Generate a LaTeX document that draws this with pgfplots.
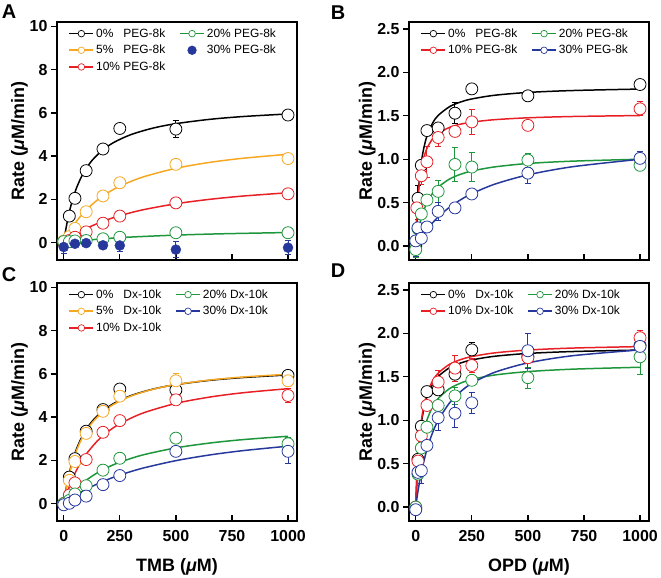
\documentclass[border=0pt]{standalone}
\usepackage{pgfplots}
\pgfplotsset{compat=1.18}
\usepackage{fontspec}
\setmainfont{Liberation Sans}
\definecolor{cOrange}{RGB}{247,168,35}
\definecolor{cRed}{RGB}{232,32,38}
\definecolor{cGreen}{RGB}{30,150,60}
\definecolor{cBlue}{RGB}{38,56,155}
\pgfplotsset{
  panel/.style={
    scale only axis, width=240bp, height=238bp, anchor=south west,
    xmin=-30, xmax=1040,
    axis line style={line width=1.6pt},
    tick pos=left,
    xtick align=inside, ytick align=outside,
    major tick length=6bp,
    every tick/.style={black, line width=1.3pt},
    xtick={0,250,500,750,1000},
    ticklabel style={font=\fontsize{16}{16}\selectfont\bfseries},
    xticklabel style={yshift=-6bp},
    /pgf/number format/assume math mode=true,
    /pgf/number format/1000 sep={},
    label style={font=\fontsize{18}{18}\selectfont\bfseries},
    xlabel style={yshift=-10bp},
    ylabel shift=-5bp,
    ylabel={Rate ({\itshape μ}M/min)},
    legend style={draw=none, fill=none, at={(0.035,0.99)}, anchor=north west,
      font=\fontsize{12}{12}\selectfont, row sep=2.5bp,
      /tikz/every even column/.append style={column sep=12bp}},
    legend columns=2,
    legend cell align=left,
    legend image code/.code={\draw[mark repeat=2,mark phase=2,##1,line width=1.6pt] plot coordinates {(0bp,0bp) (12bp,0bp) (24bp,0bp)};},
    legend image post style={mark=*, mark size=3.3bp, mark options={solid, fill=white, line width=0.7pt}},
  },
  curve/.style={smooth, line width=1.5pt, no markers},
  ebar/.style={only marks, mark=none, forget plot,
    error bars/y dir=both, error bars/y explicit, error bars/error bar style={line width=1pt},
    error bars/error mark options={rotate=90, line width=1pt, mark size=3bp}},
  mk/.style={only marks, mark=*, mark size=6bp, forget plot, mark options={fill=white, line width=0.8pt}},
}
\begin{document}
\begin{tikzpicture}
\path[use as bounding box] (0,0) rectangle (661bp,578bp);
\node[font=\fontsize{20}{20}\selectfont\bfseries] at (9bp,566bp) {A};
\node[font=\fontsize{20}{20}\selectfont\bfseries] at (338bp,565bp) {B};
\node[font=\fontsize{20}{20}\selectfont\bfseries] at (9bp,303bp) {C};
\node[font=\fontsize{20}{20}\selectfont\bfseries] at (338bp,307bp) {D};

% ---------------- Panel A ----------------
\begin{axis}[panel, at={(57bp,318bp)}, ymin=-0.8, ymax=10.2, ytick={0,2,...,10}, xticklabels={}]
\addplot[ebar, black] table[y error=e] {
x y e
500 5.25 0.38
};
\addplot[ebar, cBlue] table[y error=e] {
x y e
0 -0.20 0.30
250 -0.13 0.30
500 -0.32 0.38
1000 -0.23 0.32
};
\addplot[mk, black] table {
x y
0 0
25 1.23
50 2.05
100 3.33
175 4.33
250 5.28
500 5.25
1000 5.90
};
\addplot[mk, cOrange] table {
x y
0 0.08
25 0.28
50 0.66
100 1.43
175 2.16
250 2.77
500 3.62
1000 3.89
};
\addplot[mk, cRed] table {
x y
0 0.03
25 0.10
50 0.25
100 0.50
175 0.90
250 1.23
500 1.84
1000 2.26
};
\addplot[mk, cGreen] table {
x y
0 0.05
25 0.05
50 0.08
100 0.10
175 0.18
250 0.25
500 0.46
1000 0.46
};
\addplot[curve, black] coordinates {(0,0) (5,0.345) (10,0.655) (20,1.189) (30,1.634) (45,2.176) (60,2.609) (80,3.067) (100,3.429) (130,3.847) (175,4.295) (225,4.643) (300,4.997) (400,5.301) (500,5.501) (650,5.700) (800,5.831) (1000,5.950)};
\addlegendentry{0\%\hphantom{0} PEG-8k}
\addplot[curve, cGreen] coordinates {(0,0) (50,0.0625) (100,0.115) (200,0.198) (300,0.261) (500,0.350) (700,0.410) (1000,0.470)};
\addlegendentry{20\% PEG-8k}
\addplot[curve, cOrange] coordinates {(0,0) (10,0.207) (25,0.488) (50,0.890) (75,1.227) (100,1.514) (150,1.974) (200,2.328) (250,2.609) (350,3.026) (500,3.438) (650,3.710) (800,3.903) (1000,4.088)};
\addlegendentry{5\%\hphantom{0} PEG-8k}
\addplot[only marks, cBlue, mark=*, mark size=5bp, legend image post style={mark=*, mark size=3.8bp, draw=none, mark options={fill=cBlue, draw=cBlue}}] table {
x y
0 -0.20
50 -0.05
100 -0.02
175 -0.12
250 -0.13
500 -0.32
1000 -0.23
};
\addlegendentry{30\% PEG-8k}
\addplot[curve, cRed] coordinates {(0,0) (25,0.192) (50,0.362) (100,0.651) (150,0.886) (200,1.082) (250,1.248) (350,1.513) (500,1.799) (650,2.003) (800,2.156) (1000,2.308)};
\addlegendentry{10\% PEG-8k}
\end{axis}

% ---------------- Panel B ----------------
\begin{axis}[panel, at={(409bp,318bp)}, ymin=-0.16, ymax=2.58, ytick={0,0.5,...,2.5},
  yticklabel style={/pgf/number format/.cd, fixed, fixed zerofill, precision=1}, xticklabels={}]
\addplot[ebar, black] table[y error=e] {
x y e
10 0.55 0.15
175 1.53 0.12
};
\addplot[ebar, cRed] table[y error=e] {
x y e
25 0.81 0.10
50 0.97 0.18
100 1.25 0.10
250 1.43 0.14
1000 1.58 0.08
};
\addplot[ebar, cGreen] table[y error=e] {
x y e
0 -0.04 0.09
100 0.63 0.13
175 0.94 0.20
250 0.91 0.17
500 0.99 0.08
};
\addplot[ebar, cBlue] table[y error=e] {
x y e
0 0.06 0.18
10 0.21 0.10
100 0.40 0.10
500 0.84 0.12
1000 1.01 0.08
};
\addplot[mk, black] table {
x y
0 0.00
10 0.55
25 0.93
50 1.33
100 1.36
175 1.53
250 1.81
500 1.73
1000 1.86
};
\addplot[mk, cRed] table {
x y
5 0.44
25 0.81
50 0.97
100 1.25
175 1.32
250 1.43
500 1.39
1000 1.58
};
\addplot[mk, cGreen] table {
x y
0 -0.04
10 0.20
25 0.37
50 0.53
100 0.63
175 0.94
250 0.91
500 0.99
1000 0.93
};
\addplot[mk, cBlue] table {
x y
0 0.06
10 0.21
25 0.09
50 0.22
100 0.40
175 0.44
250 0.60
500 0.84
1000 1.01
};
\addplot[curve, black] coordinates {(0,0) (2,0.148) (5,0.330) (10,0.561) (15,0.730) (25,0.964) (35,1.116) (50,1.267) (75,1.416) (100,1.504) (150,1.604) (200,1.659) (250,1.694) (350,1.736) (500,1.769) (700,1.791) (1000,1.808)};
\addlegendentry{0\%\hphantom{0} PEG-8k}
\addplot[curve, cGreen] coordinates {(0,0) (5,0.087) (10,0.161) (25,0.328) (50,0.500) (75,0.607) (100,0.679) (150,0.771) (200,0.827) (250,0.864) (350,0.911) (500,0.951) (700,0.978) (1000,1.000)};
\addlegendentry{20\% PEG-8k}
\addplot[curve, cRed] coordinates {(0,0) (2,0.153) (5,0.333) (10,0.546) (15,0.695) (25,0.890) (35,1.010) (50,1.125) (75,1.234) (100,1.297) (150,1.366) (200,1.404) (250,1.427) (350,1.455) (500,1.477) (700,1.492) (1000,1.503)};
\addlegendentry{10\% PEG-8k}
\addplot[curve, cBlue] coordinates {(0,0) (10,0.044) (25,0.105) (50,0.194) (100,0.336) (150,0.446) (200,0.533) (250,0.603) (350,0.711) (500,0.820) (700,0.914) (1000,1.000)};
\addlegendentry{30\% PEG-8k}
\end{axis}

% ---------------- Panel C ----------------
\begin{axis}[panel, at={(57bp,57bp)}, ymin=-0.8, ymax=10.2, ytick={0,2,...,10},
  xlabel={TMB ({\itshape μ}M)}]
\addplot[ebar, black] table[y error=e] {
x y e
500 5.25 0.32
};
\addplot[ebar, cOrange] table[y error=e] {
x y e
500 5.68 0.35
};
\addplot[ebar, cRed] table[y error=e] {
x y e
1000 5.00 0.32
};
\addplot[ebar, cGreen] table[y error=e] {
x y e
1000 2.77 0.30
};
\addplot[ebar, cBlue] table[y error=e] {
x y e
1000 2.42 0.55
};
\addplot[mk, black] table {
x y
0 0
25 1.23
50 2.08
100 3.35
175 4.35
250 5.30
500 5.25
1000 5.93
};
\addplot[mk, cOrange] table {
x y
0 0
25 1.08
50 1.95
100 3.25
175 4.27
250 4.97
500 5.68
1000 5.68
};
\addplot[mk, cRed] table {
x y
0 0
25 0.40
50 0.96
100 2.04
175 3.30
250 3.84
500 4.80
1000 5.00
};
\addplot[mk, cGreen] table {
x y
0 0
25 0.15
50 0.45
100 0.83
175 1.55
250 2.10
500 3.03
1000 2.77
};
\addplot[mk, cBlue] table {
x y
0 -0.05
25 0.02
50 0.17
100 0.35
175 0.88
250 1.30
500 2.42
1000 2.42
};
\addplot[curve, black] coordinates {(0,0) (5,0.345) (10,0.655) (20,1.189) (30,1.634) (45,2.176) (60,2.609) (80,3.067) (100,3.429) (130,3.847) (175,4.295) (225,4.643) (300,4.997) (400,5.301) (500,5.501) (650,5.700) (800,5.831) (1000,5.950)};
\addlegendentry{0\%\hphantom{0} Dx-10k}
\addplot[curve, cGreen] coordinates {(0,0) (25,0.341) (50,0.627) (100,1.082) (150,1.428) (200,1.698) (250,1.916) (350,2.246) (500,2.579) (650,2.802) (800,2.962) (1000,3.117)};
\addlegendentry{20\% Dx-10k}
\addplot[curve, cOrange] coordinates {(0,0) (5,0.328) (10,0.624) (20,1.139) (30,1.572) (45,2.105) (60,2.535) (80,2.994) (100,3.359) (130,3.784) (175,4.245) (225,4.605) (300,4.975) (400,5.293) (500,5.504) (650,5.715) (800,5.855) (1000,5.982)};
\addlegendentry{5\%\hphantom{0} Dx-10k}
\addplot[curve, cBlue] coordinates {(0,0) (25,0.188) (50,0.359) (100,0.660) (150,0.914) (200,1.133) (250,1.323) (350,1.636) (500,1.989) (650,2.251) (800,2.453) (1000,2.659)};
\addlegendentry{30\% Dx-10k}
\addplot[curve, cRed] coordinates {(0,0) (10,0.342) (25,0.791) (50,1.403) (75,1.892) (100,2.290) (150,2.902) (200,3.349) (250,3.691) (350,4.177) (500,4.635) (650,4.926) (800,5.128) (1000,5.316)};
\addlegendentry{10\% Dx-10k}
\end{axis}

% ---------------- Panel D ----------------
\begin{axis}[panel, at={(409bp,57bp)}, ymin=-0.16, ymax=2.58, ytick={0,0.5,...,2.5},
  yticklabel style={/pgf/number format/.cd, fixed, fixed zerofill, precision=1},
  xlabel={OPD ({\itshape μ}M)}]
\addplot[ebar, black] table[y error=e] {
x y e
250 1.81 0.08
};
\addplot[ebar, cRed] table[y error=e] {
x y e
100 1.44 0.13
175 1.60 0.15
250 1.63 0.08
1000 1.95 0.08
};
\addplot[ebar, cGreen] table[y error=e] {
x y e
175 1.28 0.10
500 1.49 0.12
1000 1.73 0.20
};
\addplot[ebar, cBlue] table[y error=e] {
x y e
25 0.42 0.15
100 1.03 0.15
175 1.08 0.16
250 1.20 0.12
500 1.80 0.20
1000 1.85 0.15
};
\addplot[mk, black] table {
x y
0 -0.02
10 0.55
25 0.93
50 1.33
100 1.35
175 1.53
250 1.81
500 1.73
1000 1.86
};
\addplot[mk, cRed] table {
x y
0 0
10 0.53
25 0.82
50 1.17
100 1.44
175 1.60
250 1.63
500 1.72
1000 1.95
};
\addplot[mk, cGreen] table {
x y
0 0
10 0.38
25 0.68
50 0.92
100 1.17
175 1.28
250 1.46
500 1.49
1000 1.73
};
\addplot[mk, cBlue] table {
x y
0 -0.03
10 0.40
25 0.42
50 0.71
100 1.03
175 1.08
250 1.20
500 1.80
1000 1.85
};
\addplot[curve, black] coordinates {(0,0) (2,0.148) (5,0.330) (10,0.561) (15,0.730) (25,0.964) (35,1.116) (50,1.267) (75,1.416) (100,1.504) (150,1.604) (200,1.659) (250,1.694) (350,1.736) (500,1.769) (700,1.791) (1000,1.808)};
\addlegendentry{0\%\hphantom{0} Dx-10k}
\addplot[curve, cGreen] coordinates {(0,0) (5,0.219) (10,0.387) (15,0.520) (25,0.717) (35,0.856) (50,1.002) (75,1.155) (100,1.250) (150,1.363) (200,1.427) (250,1.469) (350,1.520) (500,1.560) (700,1.588) (1000,1.610)};
\addlegendentry{20\% Dx-10k}
\addplot[curve, cRed] coordinates {(0,0) (2,0.154) (5,0.342) (10,0.580) (15,0.754) (25,0.993) (35,1.148) (50,1.302) (75,1.452) (100,1.542) (150,1.643) (200,1.698) (250,1.733) (350,1.775) (500,1.808) (700,1.831) (1000,1.848)};
\addlegendentry{10\% Dx-10k}
\addplot[curve, cBlue] coordinates {(0,0) (5,0.095) (10,0.182) (25,0.400) (50,0.666) (75,0.856) (100,0.998) (150,1.197) (200,1.329) (250,1.424) (350,1.550) (500,1.660) (700,1.743) (1000,1.810)};
\addlegendentry{30\% Dx-10k}
\end{axis}
\end{tikzpicture}
\end{document}
